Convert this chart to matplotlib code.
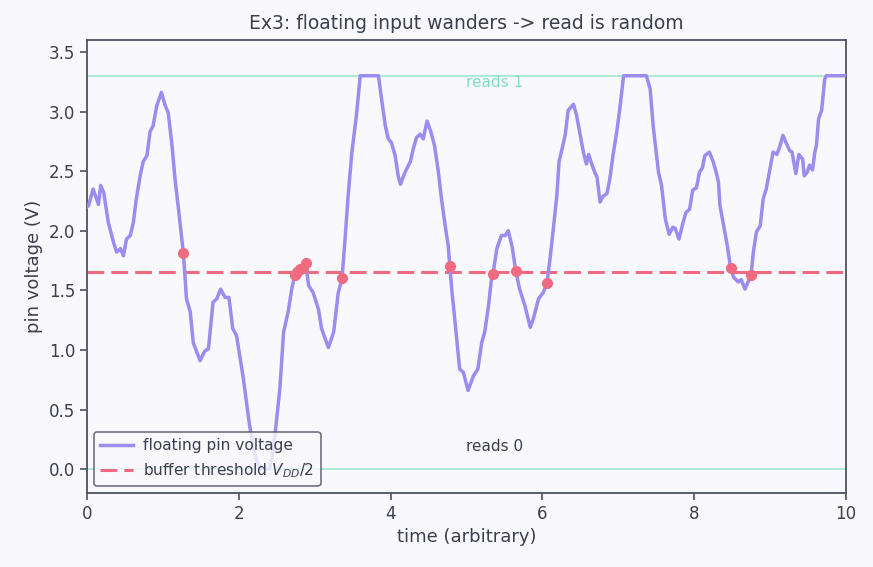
import numpy as np
import matplotlib
matplotlib.use('Agg')
import matplotlib.pyplot as plt

VDD = 3.3
THRESH = VDD / 2

# floating pin voltage
t = [0.00, 0.02, 0.08, 0.15, 0.18, 0.22, 0.28, 0.35, 0.39, 0.44, 0.48, 0.52, 0.57,
     0.61, 0.65, 0.70, 0.74, 0.79, 0.83, 0.87, 0.92, 0.98, 1.03, 1.07, 1.12, 1.16,
     1.20, 1.27, 1.31, 1.36, 1.40, 1.49, 1.55, 1.60, 1.66, 1.71, 1.76, 1.82, 1.87,
     1.92, 1.97, 2.06, 2.13, 2.19, 2.25, 2.30, 2.40, 2.44, 2.48, 2.54, 2.59, 2.65,
     2.70, 2.74, 2.77, 2.80, 2.84, 2.88, 2.92, 2.98, 3.05, 3.09, 3.18, 3.25, 3.31,
     3.36, 3.40, 3.44, 3.49, 3.55, 3.60, 3.84, 3.88, 3.93, 3.97, 4.01, 4.06, 4.10,
     4.13, 4.19, 4.26, 4.30, 4.34, 4.39, 4.43, 4.48, 4.53, 4.58, 4.63, 4.67, 4.72,
     4.76, 4.78, 4.81, 4.85, 4.91, 4.96, 5.02, 5.09, 5.15, 5.20, 5.24, 5.29, 5.33,
     5.35, 5.40, 5.46, 5.51, 5.55, 5.60, 5.65, 5.70, 5.77, 5.84, 5.88, 5.95, 6.01,
     6.06, 6.10, 6.14, 6.19, 6.22, 6.25, 6.30, 6.34, 6.41, 6.45, 6.50, 6.54, 6.58,
     6.61, 6.65, 6.69, 6.72, 6.76, 6.80, 6.85, 6.89, 6.93, 6.98, 7.02, 7.07, 7.37,
     7.42, 7.46, 7.53, 7.57, 7.62, 7.67, 7.72, 7.75, 7.80, 7.85, 7.89, 7.94, 7.98,
     8.03, 8.07, 8.11, 8.14, 8.20, 8.25, 8.29, 8.32, 8.34, 8.38, 8.43, 8.48, 8.52,
     8.58, 8.62, 8.67, 8.71, 8.75, 8.78, 8.82, 8.87, 8.91, 8.95, 9.00, 9.04, 9.09,
     9.13, 9.17, 9.21, 9.26, 9.29, 9.34, 9.38, 9.43, 9.45, 9.49, 9.52, 9.56, 9.59,
     9.61, 9.64, 9.68, 9.72, 9.74, 10.00]
v = [2.20, 2.21, 2.35, 2.22, 2.38, 2.32, 2.07, 1.90, 1.82, 1.85, 1.79, 1.93, 1.96,
     2.07, 2.27, 2.46, 2.58, 2.63, 2.83, 2.88, 3.05, 3.16, 3.05, 2.99, 2.71, 2.43,
     2.21, 1.81, 1.43, 1.32, 1.06, 0.91, 0.99, 1.01, 1.40, 1.43, 1.51, 1.44, 1.44,
     1.18, 1.12, 0.76, 0.42, 0.17, 0.05, 0.00, 0.00, 0.10, 0.31, 0.67, 1.15, 1.32,
     1.52, 1.63, 1.65, 1.68, 1.69, 1.73, 1.54, 1.48, 1.34, 1.18, 1.02, 1.15, 1.48,
     1.60, 1.93, 2.29, 2.66, 2.97, 3.30, 3.30, 3.11, 2.88, 2.77, 2.74, 2.63, 2.46,
     2.39, 2.49, 2.58, 2.69, 2.78, 2.81, 2.77, 2.92, 2.83, 2.71, 2.49, 2.27, 2.04,
     1.87, 1.70, 1.48, 1.23, 0.84, 0.81, 0.66, 0.78, 0.84, 1.06, 1.15, 1.37, 1.60,
     1.64, 1.85, 1.96, 1.96, 2.00, 1.87, 1.66, 1.51, 1.37, 1.19, 1.26, 1.43, 1.48,
     1.56, 1.76, 1.99, 2.29, 2.58, 2.66, 2.80, 3.01, 3.06, 2.97, 2.80, 2.66, 2.56,
     2.64, 2.56, 2.49, 2.45, 2.24, 2.29, 2.31, 2.44, 2.63, 2.83, 3.02, 3.30, 3.30,
     3.19, 2.88, 2.49, 2.38, 2.10, 1.97, 2.03, 2.02, 1.93, 2.06, 2.15, 2.18, 2.34,
     2.36, 2.49, 2.53, 2.63, 2.66, 2.58, 2.49, 2.41, 2.21, 2.07, 1.90, 1.69, 1.61,
     1.57, 1.59, 1.51, 1.57, 1.63, 1.82, 1.99, 2.04, 2.27, 2.35, 2.52, 2.66, 2.64,
     2.71, 2.80, 2.74, 2.67, 2.66, 2.48, 2.64, 2.60, 2.46, 2.49, 2.55, 2.51, 2.66,
     2.71, 2.94, 3.01, 3.27, 3.30, 3.30]

# samples taken near the threshold (the "reads")
read_t = [1.27, 2.74, 2.77, 2.80, 2.84, 2.88, 3.36, 4.78, 5.35, 5.65, 6.06, 8.48, 8.75]
read_v = [1.81, 1.63, 1.65, 1.68, 1.69, 1.73, 1.60, 1.70, 1.64, 1.66, 1.56, 1.69, 1.63]

BG = '#f9f9fd'
INK = '#3b3f4c'
SPINE = '#4d5260'
LINE_C = '#9c8cf0'
RED = '#f06b80'
TEAL = '#9fe6cc'

plt.rcParams['font.family'] = ['DejaVu Sans']
fig = plt.figure(figsize=(8.73, 5.67), dpi=100, facecolor=BG)
ax = fig.add_axes([0.0997, 0.1305, 0.8693, 0.799], facecolor=BG)

ax.axhline(VDD, color=TEAL, lw=1.2, zorder=1)
ax.axhline(0.0, color=TEAL, lw=1.2, zorder=1)
ax.plot(t, v, color=LINE_C, lw=2.5, label='floating pin voltage', zorder=3)
ax.axhline(THRESH, color=RED, lw=2.2, ls=(0, (5.5, 2.3)), label=r'buffer threshold $V_{DD}/2$', zorder=2)
ax.plot(read_t, read_v, 'o', color=RED, ms=7, zorder=4)

ax.text(5.0, VDD - 0.06, 'reads 1', color='#7fe0bc', fontsize=11, va='center')
ax.text(5.0, 0.19, 'reads 0', color=INK, fontsize=11, va='center')

ax.set_xlim(0, 10)
ax.set_ylim(-0.2, 3.6)
ax.set_xlabel('time (arbitrary)', fontsize=13, color=INK)
ax.set_ylabel('pin voltage (V)', fontsize=13, color=INK)
ax.set_title('Ex3: floating input wanders -> read is random', fontsize=13.5, color=INK, pad=8)
ax.tick_params(colors=SPINE, labelcolor=INK, labelsize=12, length=5, width=1.2)
for s in ax.spines.values():
    s.set_color(SPINE); s.set_linewidth(1.3)

leg = ax.legend(loc='lower left', fontsize=11.1, frameon=True, facecolor=BG, framealpha=0.8,
                edgecolor=SPINE, handlelength=2.1, handletextpad=0.7, borderaxespad=0.45)
leg.get_frame().set_linewidth(1.2)
for txt in leg.get_texts():
    txt.set_color(INK)

fig.savefig('out.png', dpi=100, facecolor=BG)
